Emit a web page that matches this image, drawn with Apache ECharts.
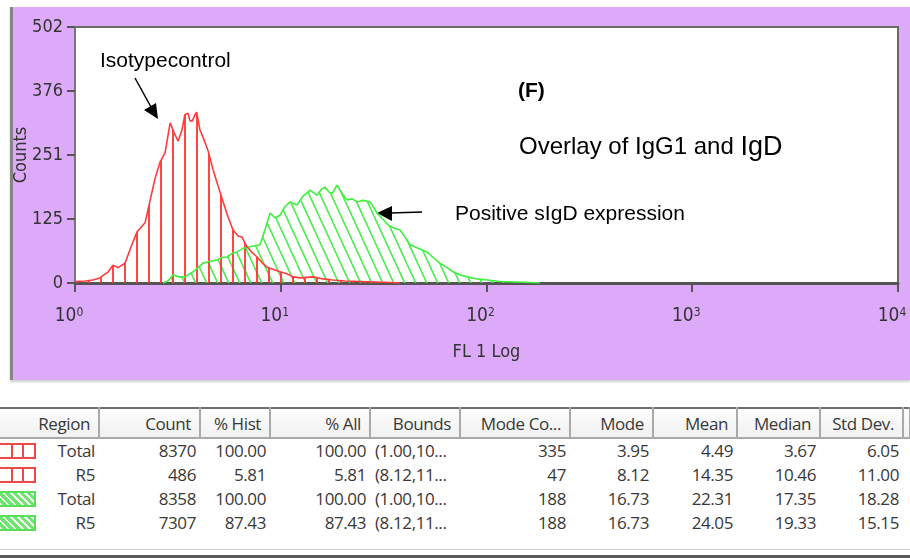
<!DOCTYPE html>
<html>
<head>
<meta charset="utf-8">
<script src="https://cdn.jsdelivr.net/npm/echarts@6/dist/echarts.min.js"></script>
<style>
  body { margin: 0; width: 910px; height: 559px; overflow: hidden; position: relative; background: #fff; }
  #panel { position: absolute; left: 10px; top: 7px; width: 900px; height: 373px; background: #dcaaf8;
    border-left: 3px solid #858585; box-sizing: border-box; box-shadow: 0 2px 2px #cfcfcf; }
  #chart { position: absolute; left: 0; top: 0; width: 910px; height: 380px; }
  #stats { position: absolute; left: 0; top: 407px; width: 910px; border-collapse: collapse; table-layout: fixed;
    font-family: 'Open Sans', 'Noto Sans', sans-serif; font-size: 17px; letter-spacing: -0.4px; color: #383838; }
  #stats th { height: 28px; padding: 0 8px 0 0; text-align: right; font-weight: normal; white-space: nowrap; overflow: hidden;
    border-top: 2px solid #6f6f6f; border-bottom: 2px solid #a9a9a9; border-right: 2px solid #aaa;
    background: linear-gradient(#fdfdfd, #f1f1f1); }
  #stats td { height: 24px; padding: 0 4px 0 0; text-align: right; white-space: nowrap; overflow: hidden; line-height: 24px; }
  #stats td.bounds { text-align: left; padding: 0 0 0 5px; }
  #stats td.region { position: relative; }
  .icon { position: absolute; left: -2px; top: 4px; width: 34px; height: 12px; }
  .icon.red { border: 2px solid #f04848; background: linear-gradient(90deg, transparent 11px, #f04848 11px 13px, transparent 13px 22px, #f04848 22px 24px, transparent 24px); }
  .icon.green { border: 2px solid #58e058; background: repeating-linear-gradient(45deg, #fff 0 2px, #6be86b 2px 5px); }
  #foot1 { position: absolute; left: 0; top: 549px; width: 910px; height: 1px; background: #cfcfcf; }
  #foot2 { position: absolute; left: 0; top: 555px; width: 910px; height: 3px; background: #5a5a5a; }
</style>
</head>
<body>
<div id="panel"></div>
<div id="chart"></div>
<table id="stats"></table>
<div id="foot1"></div>
<div id="foot2"></div>
<script>
var fl1Iso = [1.00, 1.12, 1.22, 1.32, 1.45, 1.53, 1.62, 1.75, 1.87, 2.00, 2.19, 2.32, 2.45, 2.59, 2.74,
  2.90, 3.03, 3.17, 3.31, 3.42, 3.54, 3.62, 3.72, 3.83, 3.90, 4.05, 4.19, 4.43, 4.69, 4.96,
  5.24, 5.54, 5.86, 6.20, 6.48, 6.85, 7.25, 7.67, 8.11, 8.57, 9.17, 9.92, 10.7, 11.5, 12.4,
  14.4, 16.1, 17.9, 20.5, 24.3, 28.7, 34.0, 38.0]
var countIso = [3, 4, 6, 10, 22, 35, 30, 39, 70, 100, 118, 163, 205, 237, 255,
  314, 295, 278, 300, 330, 333, 318, 318, 330, 335, 300, 286, 260, 222, 190,
  160, 130, 104, 92, 90, 71, 60, 51, 40, 31, 27, 22, 18, 12, 10,
  12, 8, 6, 4, 3, 2, 1, 0]
var fl1IgD = [2.68, 2.83, 3.00, 3.20, 3.42, 3.75, 3.96, 4.19, 4.53, 4.90, 5.18, 5.48, 5.80, 6.13, 6.56,
  7.09, 7.50, 7.93, 8.39, 8.87, 9.38, 9.92, 10.5, 11.1, 12.0, 12.8, 13.9, 15.0, 15.7, 16.4,
  17.2, 17.8, 18.8, 19.9, 21.0, 22.2, 23.5, 25.1, 27.2, 29.4, 31.4, 33.2, 35.5, 38.0, 40.2,
  42.5, 46.5, 51.4, 55.0, 59.4, 64.3, 68.7, 74.3, 80.4, 89.9, 101, 116, 138, 163, 182]
var countIgD = [0, 4, 16, 12, 12, 22, 30, 39, 42, 45, 50, 51, 58, 61, 68,
  71, 73, 75, 105, 137, 128, 133, 150, 159, 153, 170, 182, 172, 183, 188,
  178, 176, 192, 175, 163, 165, 159, 162, 159, 137, 125, 114, 108, 104, 90,
  75, 68, 61, 50, 39, 30, 22, 16, 12, 8, 6, 3, 2, 1, 0]
var yTicks = [0, 125, 251, 376, 502]

// statistics table
var headers = ['Region', 'Count', '% Hist', '% All', 'Bounds', 'Mode Co...', 'Mode', 'Mean', 'Median', 'Std Dev.', '']
var regionNames = ['Total', 'R5', 'Total', 'R5']
var regionIcons = ['red', 'red', 'green', 'green']
var counts = ['8370', '486', '8358', '7307']
var pctHist = ['100.00', '5.81', '100.00', '87.43']
var pctAll = ['100.00', '5.81', '100.00', '87.43']
var bounds = ['(1.00,10...', '(8.12,11...', '(1.00,10...', '(8.12,11...']
var modeCounts = ['335', '47', '188', '188']
var modes = ['3.95', '8.12', '16.73', '16.73']
var means = ['4.49', '14.35', '22.31', '24.05']
var medians = ['3.67', '10.46', '17.35', '19.33']
var stdDevs = ['6.05', '11.00', '18.28', '15.15']
var colWidths = [99, 101, 70, 100, 90, 110, 83, 84, 83, 83, 7]

function zip (xs, ys) {
  return xs.map(function (x, i) { return [x, ys[i]] })
}

function hatch (w, h, color, lw, draw) {
  var c = document.createElement('canvas')
  c.width = w
  c.height = h
  var ctx = c.getContext('2d')
  ctx.strokeStyle = color
  ctx.lineWidth = lw
  ctx.beginPath()
  draw(ctx, w, h)
  ctx.stroke()
  return c
}

var redHatch = hatch(12, 12, 'rgba(255,50,50,0.9)', 2, function (ctx, w, h) {
  ctx.moveTo(5, 0)
  ctx.lineTo(5, h)
})
var greenHatch = hatch(11, 24, 'rgba(70,235,70,0.95)', 1.6, function (ctx, w, h) {
  for (var k = -1; k <= 1; k++) {
    ctx.moveTo(k * w, 0)
    ctx.lineTo(k * w + w, h)
  }
})

var axisFont = "'DejaVu Sans Condensed', 'Liberation Sans Narrow', sans-serif"
var textFont = "'Liberation Sans', Arial, sans-serif"

var myChart = echarts.init(document.getElementById('chart'))
var option = {
  animation: false,
  grid: {
    left: 75,
    right: 12,
    top: 27,
    bottom: 97,
    outerBoundsMode: 'none',
    show: true,
    backgroundColor: '#fff',
    borderColor: '#6a6a6a',
    borderWidth: 2
  },
  xAxis: {
    type: 'log',
    logBase: 10,
    min: 1,
    max: 10000,
    splitNumber: 4,
    name: 'FL 1 Log',
    nameLocation: 'middle',
    nameGap: 60,
    nameTextStyle: { fontFamily: axisFont, fontSize: 18, color: '#333' },
    axisLine: { lineStyle: { color: '#555', width: 3 } },
    axisTick: { length: 9, lineStyle: { color: '#555', width: 2 } },
    minorTick: { show: false },
    splitLine: { show: false },
    axisLabel: {
      margin: 24,
      hideOverlap: false,
      formatter: function (v) {
        return '{b|10}{s|' + Math.round(Math.log10(v)) + '}{p|}'
      },
      rich: {
        b: { fontFamily: axisFont, fontSize: 19, color: '#333' },
        s: { fontFamily: axisFont, fontSize: 12, color: '#333', verticalAlign: 'top' },
        p: { width: 12 }
      }
    }
  },
  yAxis: {
    type: 'value',
    min: 0,
    max: 502,
    interval: 125.5,
    name: 'Counts',
    nameLocation: 'middle',
    nameGap: 45,
    nameMoveOverlap: false,
    nameTextStyle: { fontFamily: axisFont, fontSize: 18, color: '#333' },
    axisLine: { show: true, lineStyle: { color: '#777', width: 2 } },
    axisTick: { show: true, length: 8, lineStyle: { color: '#555', width: 2 } },
    splitLine: { show: false },
    axisLabel: {
      margin: 12,
      fontFamily: axisFont,
      fontSize: 18,
      color: '#333',
      formatter: function (v) { return yTicks[Math.round(v / 125.5)] }
    }
  },
  series: [
    {
      name: 'IgD',
      type: 'line',
      showSymbol: false,
      data: zip(fl1IgD, countIgD),
      lineStyle: { color: '#3ef03e', width: 1.6 },
      areaStyle: { color: { image: greenHatch, repeat: 'repeat' }, opacity: 1 }
    },
    {
      name: 'Isotype',
      type: 'line',
      showSymbol: false,
      data: zip(fl1Iso, countIso),
      lineStyle: { color: '#ff3c3c', width: 1.6 },
      areaStyle: { color: { image: redHatch, repeat: 'repeat' }, opacity: 1 }
    }
  ],
  graphic: [
    { type: 'text', x: 100, y: 51, style: { text: 'Isotypecontrol', font: '21px ' + textFont, fill: '#000' } },
    { type: 'line', shape: { x1: 135, y1: 78, x2: 151, y2: 107 }, style: { stroke: '#000', lineWidth: 1.5 } },
    { type: 'polygon', shape: { points: [[158, 119], [144, 110], [156, 103]] }, style: { fill: '#000' } },
    { type: 'text', x: 518, y: 81, style: { text: '(F)', font: 'bold 21px ' + textFont, fill: '#000' } },
    {
      type: 'text',
      x: 519,
      y: 134,
      style: {
        text: 'Overlay of IgG1 and {b|IgD}',
        font: '24px ' + textFont,
        fill: '#000',
        rich: { b: { fontSize: 27, fontFamily: textFont, fill: '#000' } }
      }
    },
    { type: 'line', shape: { x1: 422, y1: 212, x2: 390, y2: 213 }, style: { stroke: '#000', lineWidth: 1.5 } },
    { type: 'polygon', shape: { points: [[377, 213], [392, 206], [392, 221]] }, style: { fill: '#000' } },
    { type: 'text', x: 455, y: 204, style: { text: 'Positive sIgD expression', font: '21px ' + textFont, fill: '#000' } }
  ]
}
option && myChart.setOption(option)

// table below the histogram
var table = document.getElementById('stats')
var html = '<colgroup>' + colWidths.map(function (w) { return '<col style="width:' + w + 'px">' }).join('') + '</colgroup>'
html += '<tr>' + headers.map(function (h) { return '<th>' + h + '</th>' }).join('') + '</tr>'
for (var i = 0; i < regionNames.length; i++) {
  html += '<tr>' +
    '<td class="region"><span class="icon ' + regionIcons[i] + '"></span>' + regionNames[i] + '</td>' +
    '<td>' + counts[i] + '</td>' +
    '<td>' + pctHist[i] + '</td>' +
    '<td>' + pctAll[i] + '</td>' +
    '<td class="bounds">' + bounds[i] + '</td>' +
    '<td>' + modeCounts[i] + '</td>' +
    '<td>' + modes[i] + '</td>' +
    '<td>' + means[i] + '</td>' +
    '<td>' + medians[i] + '</td>' +
    '<td>' + stdDevs[i] + '</td>' +
    '<td></td></tr>'
}
table.innerHTML = html
</script>
</body>
</html>
